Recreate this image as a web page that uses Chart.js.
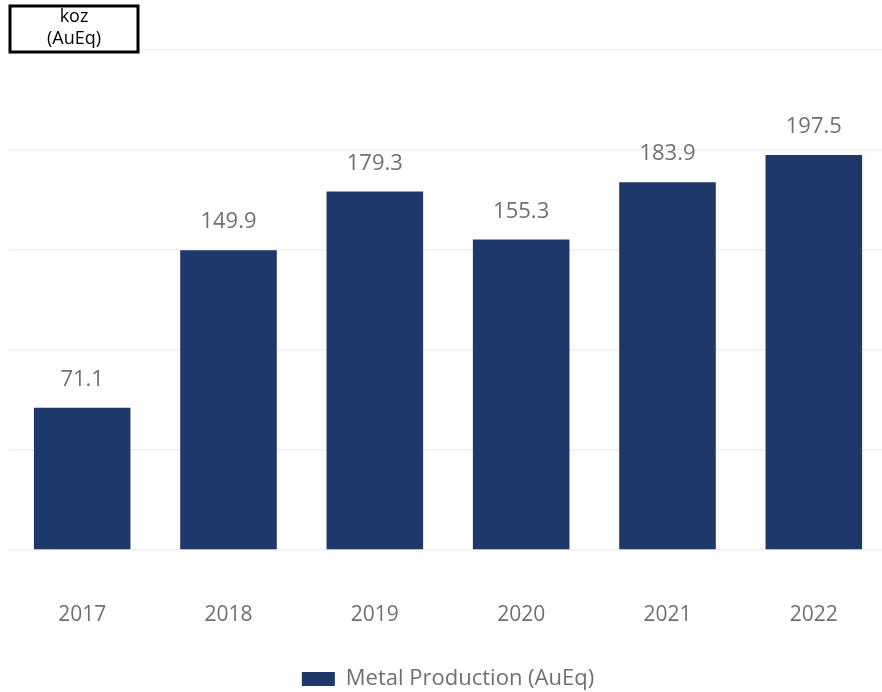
<!DOCTYPE html>
<html>
<head>
<meta charset="utf-8">
<script src="https://cdn.jsdelivr.net/npm/chart.js@4.4.1/dist/chart.umd.min.js"></script>
<style>
  html, body { margin: 0; padding: 0; background: #fff; overflow: hidden; }
  #wrap { width: 888px; height: 692px; }
</style>
</head>
<body>
<div id="wrap"><canvas id="prodChart" width="888" height="692"></canvas></div>
<script>
const years = ['2017', '2018', '2019', '2020', '2021', '2022'];
const production = [71.1, 149.9, 179.3, 155.3, 183.9, 197.5];
const seriesName = 'Metal Production (AuEq)';
const unitLines = ['koz', '(AuEq)'];
const yTicks = [0, 50, 100, 150, 200, 250];

const barColor = '#1e386a';
const textGray = '#707070';
const fontFamily = '"Open Sans", sans-serif';

// value labels above each bar
const valueLabels = {
  id: 'valueLabels',
  afterDatasetsDraw(chart) {
    const ctx = chart.ctx;
    const meta = chart.getDatasetMeta(0);
    ctx.save();
    ctx.font = '22px ' + fontFamily;
    ctx.fillStyle = textGray;
    ctx.textAlign = 'center';
    ctx.textBaseline = 'middle';
    meta.data.forEach((bar, i) => {
      ctx.fillText(production[i].toFixed(1), bar.x, bar.y - 28);
    });
    ctx.restore();
  }
};

// boxed unit label top-left
const unitBox = {
  id: 'unitBox',
  afterDraw(chart) {
    const ctx = chart.ctx;
    ctx.save();
    ctx.fillStyle = '#fff';
    ctx.fillRect(10, 6, 128, 46);
    ctx.strokeStyle = '#000';
    ctx.lineWidth = 3;
    ctx.strokeRect(10, 6, 128, 46);
    ctx.fillStyle = '#000';
    ctx.font = '18px ' + fontFamily;
    ctx.textAlign = 'center';
    ctx.textBaseline = 'middle';
    ctx.fillText(unitLines[0], 74, 17);
    ctx.fillText(unitLines[1], 74, 39);
    ctx.restore();
  }
};

new Chart('prodChart', {
  type: 'bar',
  data: {
    labels: years,
    datasets: [{
      label: seriesName,
      data: production,
      backgroundColor: barColor,
      borderWidth: 0,
      barPercentage: 0.66,
      categoryPercentage: 1
    }]
  },
  options: {
    responsive: false,
    animation: false,
    layout: { padding: { left: 9, right: 1, top: 50, bottom: -8 } },
    scales: {
      x: {
        grid: { display: false },
        border: { display: false },
        afterFit(scale) { scale.height = 108; },
        ticks: {
          color: textGray,
          font: { family: fontFamily, size: 21 },
          padding: 44
        }
      },
      y: {
        min: 0,
        max: 250,
        afterBuildTicks(scale) { scale.ticks = yTicks.map(v => ({ value: v })); },
        grid: { color: '#efefef', lineWidth: 1.5, drawTicks: false },
        border: { display: false },
        ticks: { display: false }
      }
    },
    plugins: {
      legend: {
        position: 'bottom',
        labels: {
          boxWidth: 33,
          boxHeight: 14,
          color: textGray,
          font: { family: fontFamily, size: 22 },
          padding: 10
        }
      },
      tooltip: { enabled: false }
    }
  },
  plugins: [valueLabels, unitBox]
});
</script>
</body>
</html>
